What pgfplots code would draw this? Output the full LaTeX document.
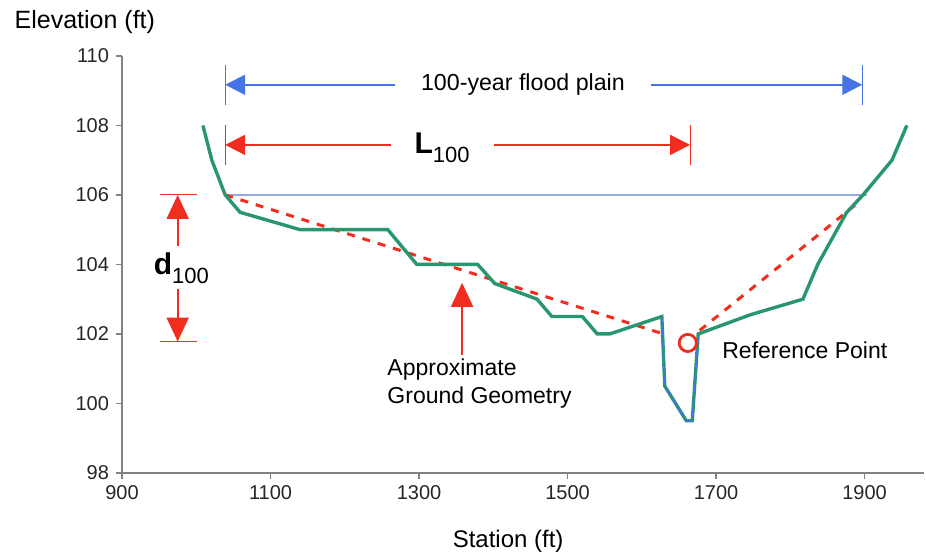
\documentclass[border=0pt]{standalone}
\usepackage{pgfplots}
\pgfplotsset{compat=1.18}
\usepackage{fontspec}
\setmainfont{Liberation Sans}
\usetikzlibrary{arrows.meta}

\definecolor{ground}{RGB}{40,150,110}
\definecolor{redann}{RGB}{240,45,30}
\definecolor{bluearr}{RGB}{70,115,230}
\definecolor{wsline}{RGB}{150,170,225}
\definecolor{axgray}{RGB}{130,130,130}

\begin{document}
\begin{tikzpicture}
\begin{axis}[
    scale only axis,
    width=401pt, height=208.5pt,
    xmin=900, xmax=1980, ymin=98, ymax=110,
    xtick={900,1100,...,1900}, ytick={98,100,...,110},
    axis x line*=bottom, axis y line*=left,
    axis line style={axgray, line width=0.8pt},
    tick style={axgray, line width=0.8pt},
    tick align=outside, major tick length=3pt,
    ticklabel style={font=\fontsize{10}{12}\selectfont, text=black!85},
    /pgf/number format/assume math mode=true,
    /pgf/number format/1000 sep={},
    clip=false,
]
% water surface
\addplot[wsline, line width=0.6pt] coordinates {(1039,106) (1903,106)};
% approximate ground geometry
\addplot[redann, line width=1.5pt, dash pattern=on 4pt off 4pt] coordinates {(1039,106) (1629,102.0)};
\addplot[redann, line width=1.5pt, dash pattern=on 4pt off 4pt] coordinates {(1678,102.1) (1887,105.7)};
% ground
\addplot[ground, line width=1.7pt] coordinates {
    (1009,108) (1021,107) (1039,106) (1059,105.5) (1140,105.0) (1258,105.0)
    (1297,104.0) (1379,104.0) (1402,103.45) (1459,103.0) (1479,102.5) (1520,102.5)
    (1540,102.0) (1557,102.0) (1627,102.5) (1631,100.5) (1660,99.5) (1668,99.5)
    (1676,102.0) (1746,102.55) (1817,103.0) (1837,104.0) (1876,105.5) (1898,106.0)
    (1937,107.0) (1957,108.0)
};
% channel
\addplot[bluearr, line width=0.9pt, dash pattern=on 4pt off 2pt] coordinates {
    (1627,102.5) (1631,100.5) (1660,99.5) (1668,99.5) (1676,102.0)};
% reference point
\addplot[redann, only marks, mark=o, mark size=4.3pt, mark options={line width=1.4pt}] coordinates {(1662,101.74)};

% 100-year flood plain
\draw[bluearr, line width=0.5pt] (axis cs:1039,109.74) -- (axis cs:1039,108.6);
\draw[bluearr, line width=0.5pt] (axis cs:1897,109.74) -- (axis cs:1897,108.6);
\draw[bluearr, line width=1pt, {Triangle[length=10pt,width=10pt]}-{Triangle[length=10pt,width=10pt]}]
    (axis cs:1039,109.17) -- (axis cs:1897,109.17);
\node[fill=white, inner xsep=13pt, font=\fontsize{11.6}{13}\selectfont] at (axis cs:1440,109.17) {100-year flood plain};

% L100
\draw[redann, line width=0.5pt] (axis cs:1039,108.01) -- (axis cs:1039,106.86);
\draw[redann, line width=0.5pt] (axis cs:1665,108.01) -- (axis cs:1665,106.86);
\draw[redann, line width=1pt, {Triangle[length=10pt,width=10pt]}-{Triangle[length=10pt,width=10pt]}]
    (axis cs:1039,107.44) -- (axis cs:1665,107.44);
\node[fill=white, inner xsep=12pt, inner ysep=1pt] at (axis cs:1331,107.35) {\fontsize{15}{17}\selectfont\bfseries L\raisebox{-4.5pt}{\fontsize{11}{13}\mdseries\selectfont 100}};

% d100
\draw[redann, line width=0.5pt] (axis cs:951,106) -- (axis cs:1001,106);
\draw[redann, line width=0.5pt] (axis cs:951,101.78) -- (axis cs:1001,101.78);
\draw[redann, line width=1pt, {Triangle[length=12pt,width=11pt]}-{Triangle[length=12pt,width=11pt]}]
    (axis cs:975,106) -- (axis cs:975,101.78);
\node[fill=white, inner xsep=1pt, inner ysep=3pt] at (axis cs:980,103.9) {\fontsize{15}{17}\selectfont\bfseries d\raisebox{-4.5pt}{\fontsize{11}{13}\mdseries\selectfont 100}};

% approximate ground geometry annotation
\draw[redann, line width=1pt, -{Triangle[length=12pt,width=11pt]}] (axis cs:1358,101.4) -- (axis cs:1358,103.47);
\node[anchor=north west, align=left, inner sep=0pt, font=\fontsize{11.5}{14}\selectfont] at (axis cs:1257,101.3) {Approximate\\Ground Geometry};

% reference point label
\node[anchor=west, inner sep=0pt, font=\fontsize{11.5}{13}\selectfont] at (axis cs:1708,101.54) {Reference Point};

% axis titles
\node[font=\fontsize{12.5}{14}\selectfont] at (axis cs:850,110.98) {Elevation (ft)};
\node[font=\fontsize{12}{14}\selectfont] at (axis cs:1420,96.04) {Station (ft)};

\coordinate (bl) at (axis cs:735.7,95.55);
\coordinate (tr) at (axis cs:1982.8,111.61);
\end{axis}
\pgfresetboundingbox
\path[use as bounding box] (bl) rectangle (tr);
\end{tikzpicture}
\end{document}
